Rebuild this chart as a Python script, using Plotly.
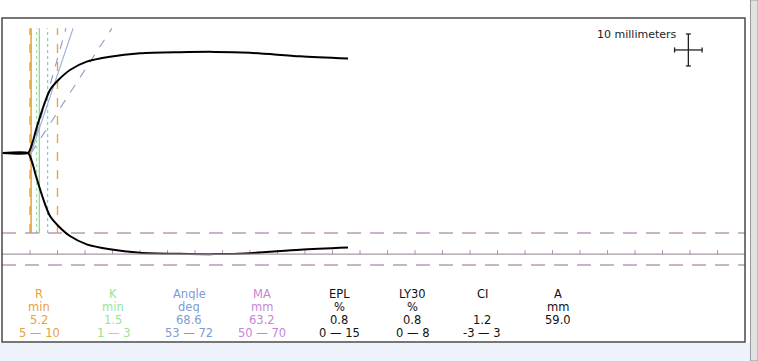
import numpy as np
import plotly.graph_objects as go

# ---- data ----
time_min = [0, 4.64, 5.0, 5.6, 6.09, 6.64, 7.42, 8.64, 10.15, 12.27, 15.31, 19.55, 25.0, 32.27, 38.6, 45.0, 54.09, 62.82]
amplitude_mm = [0, 0, 2.0, 8.1, 14.4, 20.6, 28.9, 39.4, 45.6, 51.9, 57.1, 60.2, 62.3, 63.0, 63.2, 62.6, 60.4, 59.0]

R_val, R_norm = 5.2, (5, 10)
K_val, K_norm = 1.5, (1, 3)
angle_val, angle_norm = 68.6, (53, 72)
MA_val, MA_norm = 63.2, (50, 70)

param_names = ["R", "K", "Angle", "MA", "EPL", "LY30", "CI", "A"]
param_units = ["min", "min", "deg", "mm", "%", "%", "", "mm"]
param_values = ["5.2", "1.5", "68.6", "63.2", "0.8", "0.8", "1.2", "59.0"]
param_ranges = ["5 — 10", "1 — 3", "53 — 72", "50 — 70", "0 — 15", "0 — 8", "-3 — 3", ""]
param_colors = ["#e8a23a", "#96e496", "#7d9bd6", "#c487d6", "#111111", "#111111", "#111111", "#111111"]

tick_times = list(range(5, 135, 5))

# ---- layout constants (pixels) ----
W, H = 758, 361
PX_PER_MIN = 5.5
X0_PX = 2.5
PX_PER_MM = 3.2
Y0_PX = 153
x_range = [(0 - X0_PX) / PX_PER_MIN, (W - X0_PX) / PX_PER_MIN]
y_range = [(Y0_PX - H) / PX_PER_MM, Y0_PX / PX_PER_MM]
FRAME = dict(x0=2, x1=745, y0=18, y1=342)
LINE_TOP = 39.0

def px(x):
    return x / W

def py(y):
    return 1 - y / H

fig = go.Figure()

t = np.array(time_min)
a = np.array(amplitude_mm)

# MA range dashed lines and MA line
shapes = []
for v in MA_norm:
    shapes.append(dict(type="line", xref="paper", yref="y", x0=px(FRAME["x0"]), x1=px(FRAME["x1"]),
                       y0=-v / 2, y1=-v / 2, line=dict(color="#b89cb8", width=1.3, dash="14px,9px")))
shapes.append(dict(type="line", xref="paper", yref="y", x0=px(FRAME["x0"]), x1=px(FRAME["x1"]),
                   y0=-MA_val / 2, y1=-MA_val / 2, line=dict(color="#a898a8", width=1.3)))

fig.add_trace(go.Scatter(x=tick_times, y=[-MA_val / 2 + 0.6] * len(tick_times), mode="markers",
                         marker=dict(symbol="line-ns", size=3, line=dict(color="#a898a8", width=1)),
                         hoverinfo="skip"))

# vertical R / K lines
vlines = [
    (R_norm[0], "#eea43a", "dash", 1.4),
    (R_val, "#e89a2a", "solid", 1.4),
    (R_val + K_norm[0], "#a6e0a6", "dot", 1.3),
    (R_val + K_val, "#8ed8a0", "solid", 1.3),
    (R_val + K_norm[1], "#8cc8c8", "dot", 1.3),
    (R_norm[1], "#eea43a", "dash", 1.4),
]
for xv, col, dash, w in vlines:
    fig.add_trace(go.Scatter(x=[xv, xv], y=[-MA_norm[0] / 2, LINE_TOP], mode="lines",
                             line=dict(color=col, width=w, dash=dash), hoverinfo="skip"))

# angle lines
for ang, col, dash in [(angle_norm[0], "#8a9cc0", "dash"), (angle_norm[1], "#8a9cc0", "dash"),
                       (angle_val, "#9ab2dc", "solid")]:
    slope = 2 * np.tan(np.radians(ang))
    fig.add_trace(go.Scatter(x=[R_val, R_val + LINE_TOP / slope], y=[0, LINE_TOP], mode="lines",
                             line=dict(color=col, width=1.1, dash=dash), hoverinfo="skip"))

# TEG trace
for sign in (1, -1):
    fig.add_trace(go.Scatter(x=t, y=sign * a / 2, mode="lines",
                             line=dict(color="black", width=2, shape="spline", smoothing=0.8),
                             hoverinfo="skip"))

# frame and backgrounds
shapes.append(dict(type="rect", xref="paper", yref="paper", x0=0, x1=px(750), y0=0, y1=py(343),
                   fillcolor="#eef3fb", line=dict(width=0), layer="below"))
shapes.append(dict(type="rect", xref="paper", yref="paper", x0=px(750.5), x1=1, y0=0, y1=1,
                   fillcolor="#e2e2e2", line=dict(color="#9a9a9a", width=1), layer="below"))
shapes.append(dict(type="rect", xref="paper", yref="paper", x0=px(FRAME["x0"]), x1=px(FRAME["x1"]),
                   y0=py(FRAME["y1"]), y1=py(FRAME["y0"]), line=dict(color="#4a4a4a", width=1.5)))

# scale bar (10 mm vertical, 5 min = 10 mm paper horizontal)
cx, cy = 124.7, 32.2
bar_v, bar_h = 10, 5
cap_t, cap_mm = 0.45, 0.8
scale_lines = [
    (cx, cx, cy - bar_v / 2, cy + bar_v / 2),
    (cx - bar_h / 2, cx + bar_h / 2, cy, cy),
    (cx - cap_t, cx + cap_t, cy - bar_v / 2, cy - bar_v / 2),
    (cx - cap_t, cx + cap_t, cy + bar_v / 2, cy + bar_v / 2),
    (cx - bar_h / 2, cx - bar_h / 2, cy - cap_mm, cy + cap_mm),
    (cx + bar_h / 2, cx + bar_h / 2, cy - cap_mm, cy + cap_mm),
]
for x0, x1, y0, y1 in scale_lines:
    shapes.append(dict(type="line", xref="x", yref="y", x0=x0, x1=x1, y0=y0, y1=y1,
                       line=dict(color="#222222", width=1.3)))

annotations = [dict(text="10 millimeters", xref="paper", yref="paper", x=px(679), y=py(35),
                    xanchor="right", yanchor="middle", showarrow=False,
                    font=dict(family="DejaVu Sans", size=11, color="#222222"))]

col_x = [39, 113, 189, 262, 339, 412, 482, 558]
row_y = [294, 307, 320, 333]
for i, name in enumerate(param_names):
    for j, txt in enumerate([name, param_units[i], param_values[i], param_ranges[i]]):
        if not txt:
            continue
        annotations.append(dict(text=txt, xref="paper", yref="paper", x=px(col_x[i]), y=py(row_y[j]),
                                xanchor="center", yanchor="middle", showarrow=False,
                                height=12, borderpad=0,
                                font=dict(family="DejaVu Sans", size=11.5, color=param_colors[i])))

fig.update_layout(
    width=W, height=H, margin=dict(l=0, r=0, t=0, b=0),
    paper_bgcolor="white", plot_bgcolor="rgba(0,0,0,0)",
    showlegend=False, shapes=shapes, annotations=annotations,
    xaxis=dict(range=x_range, visible=False, fixedrange=True),
    yaxis=dict(range=y_range, visible=False, fixedrange=True),
)

fig.write_html("out.html", config={"displayModeBar": False},
               post_script="document.body.style.margin='0';document.body.style.overflow='hidden';")
